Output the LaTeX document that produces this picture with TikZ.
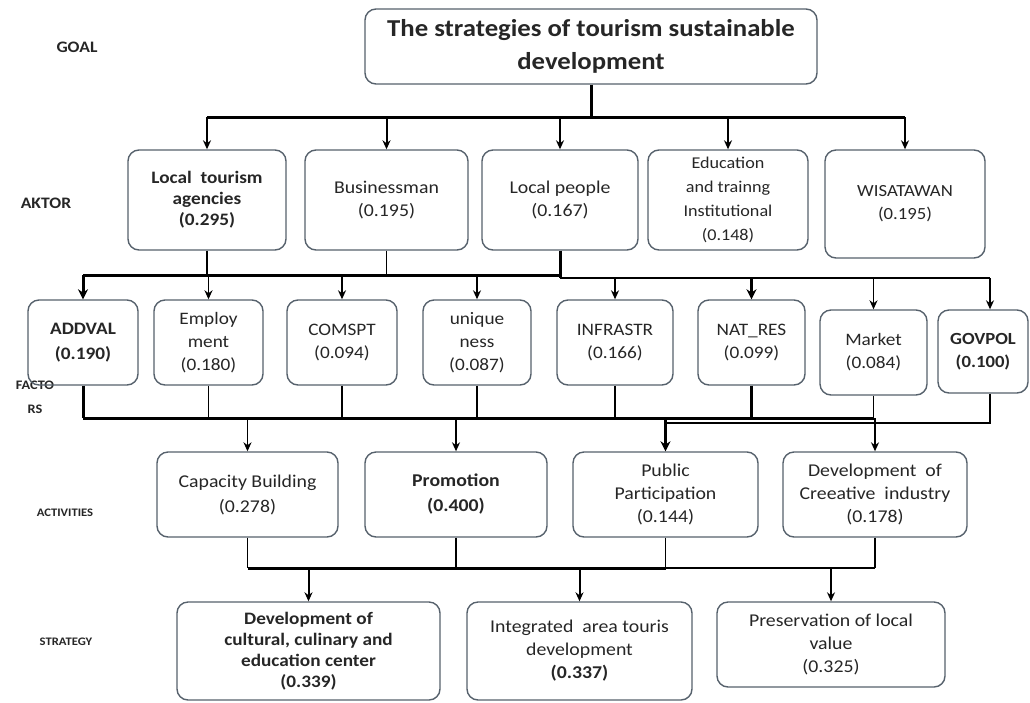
\documentclass[tikz,border=0pt]{standalone}
\usepackage{fontspec}
\setmainfont{Carlito}[FakeStretch=1.1]
\usetikzlibrary{arrows.meta}
\definecolor{boxline}{HTML}{56616C}
\definecolor{txt}{HTML}{262626}
\tikzset{
  box/.style={draw=boxline, line width=1.4pt, rounded corners=11pt, inner sep=1pt,
    align=center, text=txt, font=\fontsize{18}{23}\selectfont},
  fbox/.style={box, font=\fontsize{17.5}{23}\selectfont},
  goalbox/.style={box, font=\fontsize{24.3}{33}\selectfont\bfseries},
  lvl/.style={text=txt, font=\fontsize{16}{18}\selectfont\bfseries, align=center},
  lvls/.style={text=txt, font=\fontsize{11.5}{14}\selectfont\bfseries, align=center},
  wire/.style={line width=1.5pt, black},
  buswire/.style={line width=3pt, black},
  arr/.style={wire, -{Stealth[length=9pt,width=8pt]}},
  barr/.style={buswire, -{Stealth[length=10pt,width=10pt]}},
}
\begin{document}
\begin{tikzpicture}[x=1pt,y=-1pt]
\useasboundingbox (0,0) rectangle (1030,702);

% level labels
\node[lvl] (lgoal) at (77,47) {GOAL};
\node[lvl] (lakt) at (46,203) {AKTOR};
\node[lvl, font=\fontsize{13}{24}\selectfont\bfseries] (lfac) at (35,397) {FACTO\\RS};
\node[lvls] (lact) at (65,513) {ACTIVITIES};
\node[lvls] (lstr) at (66,642) {STRATEGY};

% goal
\node[goalbox, minimum width=452, minimum height=75] (goal) at (591,46.5)
  {The strategies of tourism sustainable\\development};

% actors
\node[box, minimum width=158, minimum height=100, font=\fontsize{17.5}{21}\selectfont\bfseries] (a1) at (207,200)
  {Local\ \ tourism\\agencies\\(0.295)};
\node[box, minimum width=163, minimum height=100] (a2) at (386.5,200) {Businessman\\(0.195)};
\node[box, minimum width=156, minimum height=100] (a3) at (560,200) {Local people\\(0.167)};
\node[box, minimum width=160, minimum height=100, font=\fontsize{16.5}{24}\selectfont] (a4) at (728,200)
  {Education\\and trainng\\Institutional\\(0.148)};
\node[box, minimum width=160, minimum height=108, font=\fontsize{17}{23}\selectfont] (a5) at (905,204) {WISATAWAN\\(0.195)};

% factors
\node[fbox, minimum width=110, minimum height=85, font=\fontsize{17.5}{25}\selectfont\bfseries] (f1) at (83,342.5) {ADDVAL\\(0.190)};
\node[fbox, minimum width=109, minimum height=85] (f2) at (208.5,342.5) {Employ\\ment\\(0.180)};
\node[fbox, minimum width=110, minimum height=85] (f3) at (342,342.5) {COMSPT\\(0.094)};
\node[fbox, minimum width=108, minimum height=85] (f4) at (477,342.5) {unique\\ness\\(0.087)};
\node[fbox, minimum width=116, minimum height=85] (f5) at (615,342.5) {INFRASTR\\(0.166)};
\node[fbox, minimum width=107, minimum height=85] (f6) at (751.5,342.5) {NAT\_RES\\(0.099)};
\node[fbox, minimum width=107, minimum height=85] (f7) at (873.5,352.5) {Market\\(0.084)};
\node[fbox, minimum width=90, minimum height=83, font=\fontsize{17}{23}\selectfont\bfseries] (f8) at (983,351.5) {GOVPOL\\(0.100)};

% activities
\node[box, minimum width=181, minimum height=85, font=\fontsize{18}{25}\selectfont] (c1) at (247.5,494.5) {Capacity Building\\(0.278)};
\node[box, minimum width=182, minimum height=85, font=\fontsize{18}{25}\selectfont\bfseries] (c2) at (456,494.5) {Promotion\\(0.400)};
\node[box, minimum width=185, minimum height=85] (c3) at (665.5,494.5) {Public\\Participation\\(0.144)};
\node[box, minimum width=184, minimum height=85] (c4) at (875,494.5) {Development\ \ of\\Creeative\ \ industry\\(0.178)};

% strategies
\node[box, minimum width=263, minimum height=98, font=\fontsize{17.5}{21}\selectfont\bfseries] (s1) at (308.5,651)
  {Development of\\cultural, culinary and\\education center\\(0.339)};
\node[box, minimum width=225, minimum height=98] (s2) at (579.5,651)
  {Integrated\ \ area touris\\development\\\textbf{(0.337)}};
\node[box, minimum width=228, minimum height=85] (s3) at (831,644.5)
  {Preservation of local\\value\\(0.325)};

% goal -> actors
\coordinate (b1) at (0,117);
\draw[buswire] (goal.south) -- (goal.south |- b1);
\draw[buswire] (a1.north |- b1) -- (a5.north |- b1);
\foreach \n in {a1,a2,a3,a4,a5}
  \draw[arr, line width=2pt] (\n.north |- b1) -- (\n.north);

% actors -> factors
\coordinate (b2) at (0,275);
\coordinate (b2r) at (0,278);
\draw[wire] (a1.south) -- (a1.south |- b2);
\draw[wire] (a2.south) -- (a2.south |- b2);
\draw[buswire] (a3.south) -- (a3.south |- b2r);
\draw[buswire] (f1.north |- b2) -- (a3.south |- b2);
\draw[line width=2pt] (a3.south |- b2r) -- ([xshift=7pt]f8.north |- b2r);
\draw[barr] (f1.north |- b2) -- (f1.north);
\draw[arr] (f2.north |- b2) -- (f2.north);
\draw[arr] (f3.north |- b2) -- (f3.north);
\draw[arr] (f4.north |- b2) -- (f4.north);
\draw[arr] (f5.north |- b2r) -- (f5.north);
\draw[barr] (f6.north |- b2r) -- (f6.north);
\draw[arr] (f7.north |- b2r) -- (f7.north);
\draw[arr] ([xshift=7pt]f8.north |- b2r) -- ([xshift=7pt]f8.north);

% factors -> activities
\coordinate (b3) at (0,418);
\coordinate (b3r) at (0,423);
\draw[buswire] (f1.south) -- (f1.south |- b3);
\foreach \n in {f2,f3,f4,f5,f7}
  \draw[wire] (\n.south) -- (\n.south |- b3);
\draw[buswire] (f6.south) -- (f6.south |- b3);
\draw[buswire] (f1.south |- b3) -- (f7.south |- b3);
\draw[wire] ([xshift=7pt]f8.south) -- ([xshift=7pt]f8.south |- b3r) -- (c3.north |- b3r);
\draw[arr] (c1.north |- b3) -- (c1.north);
\draw[arr] (c2.north |- b3) -- (c2.north);
\draw[barr] (c3.north |- b3) -- (c3.north);
\draw[arr] (c4.north |- b3) -- (c4.north);

% activities -> strategies
\coordinate (b4) at (0,568);
\foreach \n in {c1,c2,c3,c4}
  \draw[wire] (\n.south) -- (\n.south |- b4);
\draw[buswire] (c1.south |- b4) -- (c3.south |- b4);
\draw[line width=2pt] (c3.south |- b4) -- (c4.south |- b4);
\foreach \n in {s1,s2,s3}
  \draw[arr, line width=2pt] (\n.north |- b4) -- (\n.north);
\end{tikzpicture}
\end{document}
